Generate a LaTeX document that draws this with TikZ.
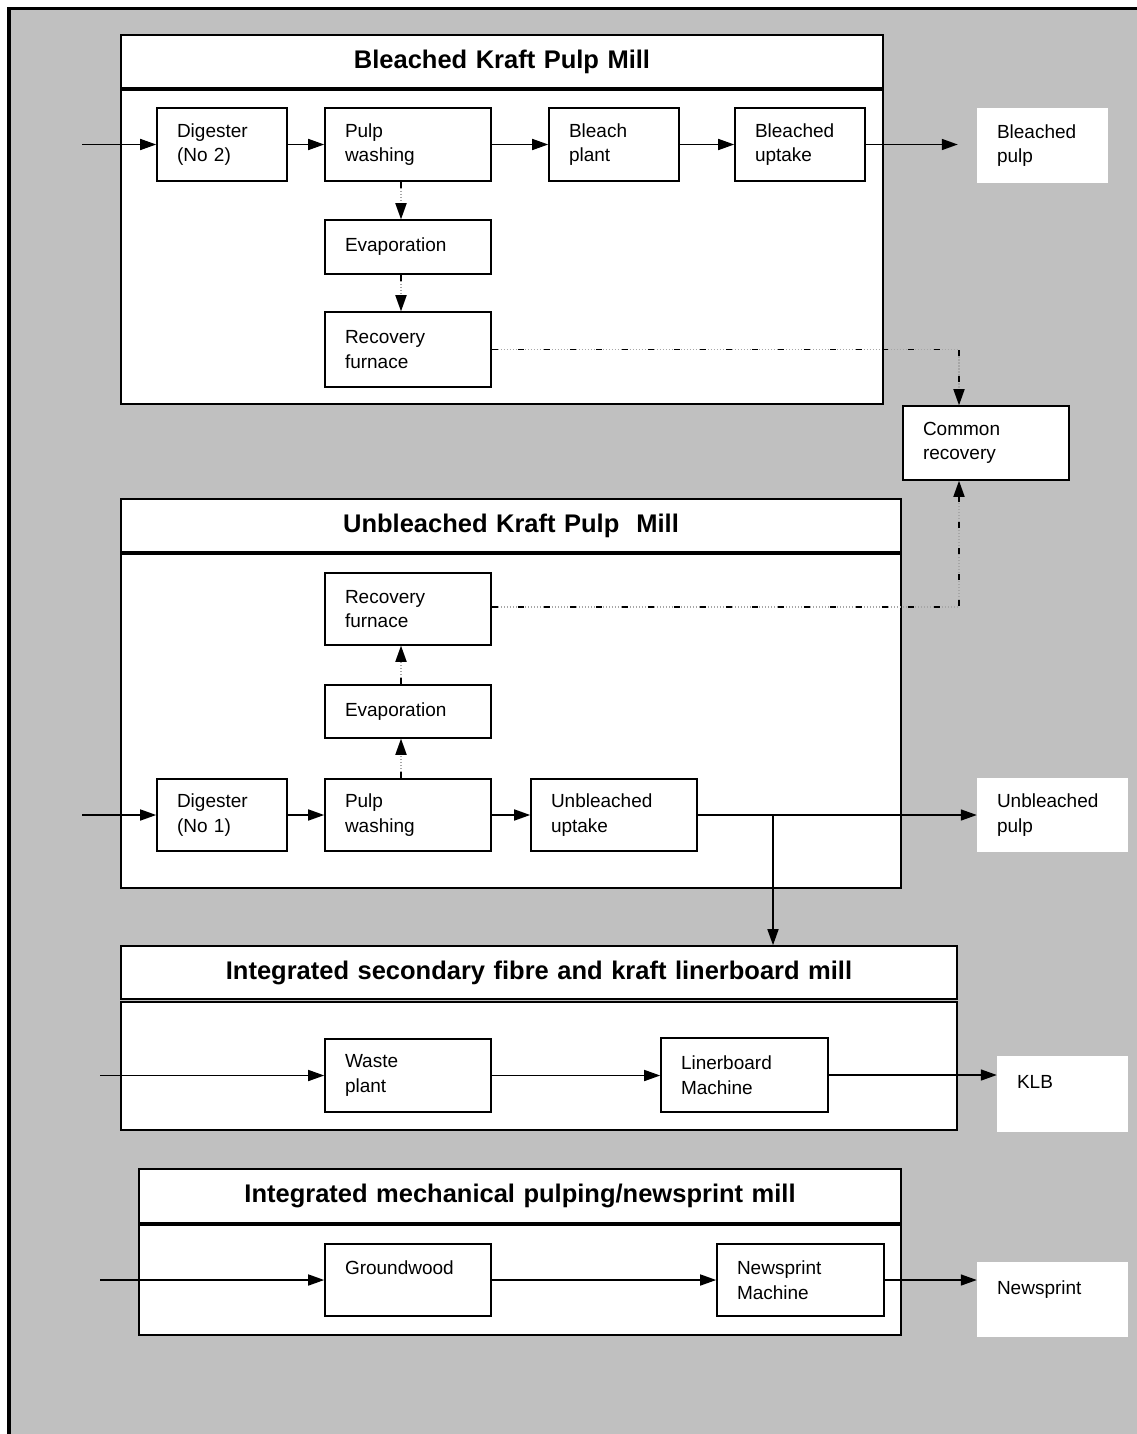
\documentclass[tikz,border=0pt]{standalone}
\usepackage{fontspec}
\setmainfont{Liberation Sans}
\usetikzlibrary{arrows.meta,calc}

\definecolor{panelgray}{HTML}{C0C0C0}

% Box placed by its corner coordinates: style, name, x1, y1, x2, y2, text
\newcommand\pbox[7]{%
  \pgfmathsetmacro\pbW{#5-#3}\pgfmathsetmacro\pbH{#6-#4}%
  \pgfmathsetmacro\pbX{(#3+#5)/2}\pgfmathsetmacro\pbY{(#4+#6)/2}%
  \pgfmathsetmacro\pbT{\pbW-40}%
  \node[#1, minimum width=\pbW pt, minimum height=\pbH pt, text width=\pbT pt] (#2) at (\pbX,\pbY) {#7};}

\tikzset{
  stepbox/.style={draw, line width=1.6pt, fill=white, inner xsep=20pt, inner ysep=0pt,
    align=left, font=\fontsize{19}{24.5}\selectfont},
  outbox/.style={fill=white, inner xsep=20pt, inner ysep=0pt,
    align=left, font=\fontsize{19}{24.5}\selectfont},
  titlebox/.style={draw, line width=1.6pt, fill=white, inner xsep=20pt, inner ysep=0pt,
    align=center, font=\bfseries\fontsize{25.5}{30}\selectfont},
  bodybox/.style={draw, line width=1.6pt, fill=white, inner xsep=20pt, inner ysep=0pt},
  flow/.style={line width=1.6pt, -{Triangle[length=16pt,width=11pt]}},
  liquor/.style={line width=1.6pt, draw=black, dash pattern=on 6pt off 20pt,
    -{Triangle[length=16pt,width=11pt]},
    preaction={draw=gray!70, line width=1.2pt, dash pattern=on 1.2pt off 1.8pt}},
}

\begin{document}
\begin{tikzpicture}[x=1pt,y=-1pt]
\useasboundingbox (0,0) rectangle (1137,1434);

% panel background and frame
\fill[panelgray] (9,8.5) rectangle (1137,1434);
\draw[line width=3.5pt] (9,1434) -- (9,8.5) -- (1137,8.5);

% ---- Bleached kraft pulp mill
\pbox{titlebox}{bkTitle}{121}{35}{883}{88}{Bleached Kraft Pulp Mill}
\pbox{bodybox}{bkBody}{121}{90}{883}{404}{}
\pbox{stepbox}{dig2}{157}{108}{287}{181}{Digester\\(No 2)}
\pbox{stepbox}{wash2}{325}{108}{491}{181}{Pulp\\washing}
\pbox{stepbox}{bleach}{549}{108}{679}{181}{Bleach\\plant}
\pbox{stepbox}{bupt}{735}{108}{865}{181}{Bleached\\uptake}
\pbox{outbox}{bpulp}{977}{108}{1108}{183}{Bleached\\pulp}
\pbox{stepbox}{evap2}{325}{220}{491}{274}{Evaporation}
\pbox{stepbox}{rec2}{325}{312}{491}{387}{Recovery\\furnace}

\pbox{stepbox}{common}{903}{406}{1069}{480}{Common\\recovery}

% ---- Unbleached kraft pulp mill
\pbox{titlebox}{ukTitle}{121}{499}{901}{552}{Unbleached Kraft Pulp\ \ Mill}
\pbox{bodybox}{ukBody}{121}{554}{901}{888}{}
\pbox{stepbox}{rec1}{325}{573}{491}{645}{Recovery\\furnace}
\pbox{stepbox}{evap1}{325}{685}{491}{738}{Evaporation}
\pbox{stepbox}{dig1}{157}{779}{287}{851}{Digester\\(No 1)}
\pbox{stepbox}{wash1}{325}{779}{491}{851}{Pulp\\washing}
\pbox{stepbox}{uupt}{531}{779}{697}{851}{Unbleached\\uptake}
\pbox{outbox}{upulp}{977}{778}{1128}{852}{Unbleached\\pulp}

% ---- Integrated secondary fibre and kraft linerboard mill
\pbox{titlebox}{secTitle}{121}{946}{957}{999}{Integrated secondary fibre and kraft linerboard mill}
\pbox{bodybox}{secBody}{121}{1002}{957}{1130}{}
\pbox{stepbox}{waste}{325}{1039}{491}{1112}{Waste\\plant}
\pbox{stepbox}{liner}{661}{1038}{828}{1112}{Linerboard\\Machine}
\pbox{outbox}{klb}{997}{1056}{1128}{1132}{KLB\\\mbox{}}

% ---- Integrated mechanical pulping/newsprint mill
\pbox{titlebox}{mechTitle}{139}{1169}{901}{1223}{Integrated mechanical pulping/newsprint mill}
\pbox{bodybox}{mechBody}{139}{1225}{901}{1335}{}
\pbox{stepbox}{ground}{325}{1244}{491}{1316}{Groundwood\\\mbox{}}
\pbox{stepbox}{news}{717}{1244}{884}{1316}{Newsprint\\Machine}
\pbox{outbox}{newsprint}{977}{1262}{1128}{1337}{Newsprint\\\mbox{}}

% free ends of the feed lines and guide columns
\coordinate (in2) at (82,0);
\coordinate (in1) at (82,0);
\coordinate (in3) at (100,0);
\coordinate (in4) at (100,0);
\coordinate (liqcol) at (401,0);
\coordinate (crcol) at (959,0);
\coordinate (split) at (773,0);

% ---- fibre flows
\draw[flow] (in2 |- dig2.west) -- (dig2.west);
\draw[flow] (dig2.east) -- (wash2.west);
\draw[flow] (wash2.east) -- (bleach.west);
\draw[flow] (bleach.east) -- (bupt.west);
\draw[flow, shorten >=19pt] (bupt.east) -- (bupt.east -| bpulp.west);

\draw[flow] (in1 |- dig1.west) -- (dig1.west);
\draw[flow] (dig1.east) -- (wash1.west);
\draw[flow] (wash1.east) -- (uupt.west);
\draw[flow] (uupt.east) -- (uupt.east -| upulp.west);
\draw[flow] (split |- uupt.east) -- (split |- secTitle.north);

\draw[flow] (in3 |- waste.west) -- (waste.west);
\draw[flow] (waste.east) -- (waste.east -| liner.west);
\draw[flow] (liner.east) -- (liner.east -| klb.west);

\draw[flow] (in4 |- ground.west) -- (ground.west);
\draw[flow] (ground.east) -- (news.west);
\draw[flow] (news.east) -- (news.east -| newsprint.west);

% ---- liquor to recovery
\draw[liquor] (liqcol |- wash2.south) -- (liqcol |- evap2.north);
\draw[liquor] (liqcol |- evap2.south) -- (liqcol |- rec2.north);
\draw[liquor] (rec2.east) -| (crcol |- common.north);

\draw[liquor] (liqcol |- wash1.north) -- (liqcol |- evap1.south);
\draw[liquor] (liqcol |- evap1.north) -- (liqcol |- rec1.south);
\draw[liquor] ([yshift=2pt]rec1.east) -| (crcol |- common.south);
\end{tikzpicture}
\end{document}
